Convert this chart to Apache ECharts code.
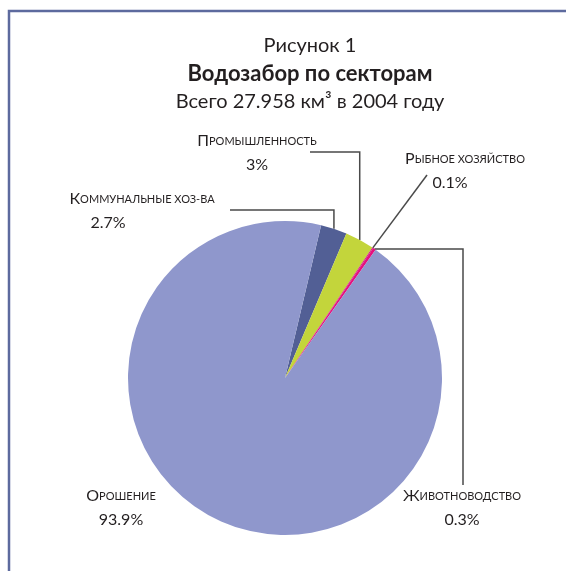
<!DOCTYPE html>
<html>
<head>
<meta charset="utf-8">
<script src="https://cdn.jsdelivr.net/npm/echarts@6/dist/echarts.min.js"></script>
<style>
  html, body { margin: 0; padding: 0; background: #fff; }
  #chart { width: 566px; height: 571px; }
</style>
</head>
<body>
<div id="chart"></div>
<script>
// Water withdrawal by sector, 2004 (percent of total)
const sectorCaps = ['К', 'П', 'Р', 'Ж', 'О'];
const sectorRest = ['оммунальные хоз-ва', 'ромышленность', 'ыбное хозяйство', 'ивотноводство', 'рошение'];
const sectorValues = [2.7, 3, 0.1, 0.3, 93.9];
const sectorColors = ['#525f95', '#c3d53b', '#d0147f', '#e4117e', '#8f97cc'];

const FONT = 'Lato, "Open Sans", sans-serif';
const TXT = '#231f20';

// per-label layout: top-centre of the text block, extra right padding for the value line
const labelPos = [
  { x: 142, y: 187, pad: 68 },
  { x: 257, y: 129, pad: 0 },
  { x: 465, y: 147, pad: 30 },
  { x: 462, y: 484, pad: 0 },
  { x: 121, y: 484, pad: 0 }
];

const data = sectorValues.map((v, i) => ({
  name: sectorCaps[i] + sectorRest[i],
  value: v,
  itemStyle: { color: sectorColors[i] },
  label: {
    formatter: '{c|' + sectorCaps[i] + '}{s|' + sectorRest[i].toUpperCase() + '}\n{v' + i + '|' + v + '%}'
  },
  labelLine: { show: i !== 4 }
}));

const rich = {
  c: { fontFamily: FONT, fontSize: 16, color: TXT, lineHeight: 24 },
  s: { fontFamily: FONT, fontSize: 11, color: TXT, lineHeight: 24 }
};
labelPos.forEach((p, i) => {
  rich['v' + i] = { fontFamily: FONT, fontSize: 16, color: TXT, lineHeight: 24, padding: [0, p.pad, 0, 0] };
});

const chart = echarts.init(document.getElementById('chart'), null, { renderer: 'canvas' });
chart.setOption({
  animation: false,
  backgroundColor: '#fff',
  title: {
    left: 305,
    top: 27,
    textAlign: 'center',
    text: '{a|Рисунок 1}\n{b|Водозабор по секторам}\n{a|Всего 27.958 км³ в 2004 году}',
    textStyle: {
      fontWeight: 'normal',
      rich: {
        a: { fontFamily: FONT, fontSize: 20, fontWeight: 'normal', color: TXT, lineHeight: 28 },
        b: { fontFamily: FONT, fontSize: 22, fontWeight: 'bold', color: TXT, lineHeight: 28 }
      }
    }
  },
  graphic: [{
    type: 'rect',
    shape: { x: 9, y: 11, width: 600, height: 600 },
    style: { fill: 'none', stroke: '#5d6a9e', lineWidth: 2.5 },
    silent: true
  }],
  series: [{
    type: 'pie',
    center: [285, 378],
    radius: 157,
    startAngle: 76.7,
    clockwise: true,
    avoidLabelOverlap: false,
    itemStyle: { borderWidth: 0 },
    label: {
      show: true,
      position: 'outside',
      align: 'center',
      rich: rich
    },
    labelLine: {
      show: true,
      lineStyle: { color: '#4a4a4a', width: 1.5 }
    },
    labelLayout: function (params) {
      const i = params.dataIndex;
      const p = labelPos[i];
      const out = { x: p.x, y: p.y, align: 'center', verticalAlign: 'top' };
      const a = params.labelLinePoints ? params.labelLinePoints[0] : null;
      if (a) {
        const ax = a[0], ay = a[1];
        if (i === 0) out.labelLinePoints = [[ax, ay], [ax, 210], [230, 210]];
        else if (i === 1) out.labelLinePoints = [[ax, ay], [ax, 152], [310, 152]];
        else if (i === 2) out.labelLinePoints = [[ax, ay], [427, 175]];
        else if (i === 3) out.labelLinePoints = [[ax, ay], [463, ay], [463, 485]];
      }
      return out;
    },
    data: data
  }]
});
</script>
</body>
</html>
